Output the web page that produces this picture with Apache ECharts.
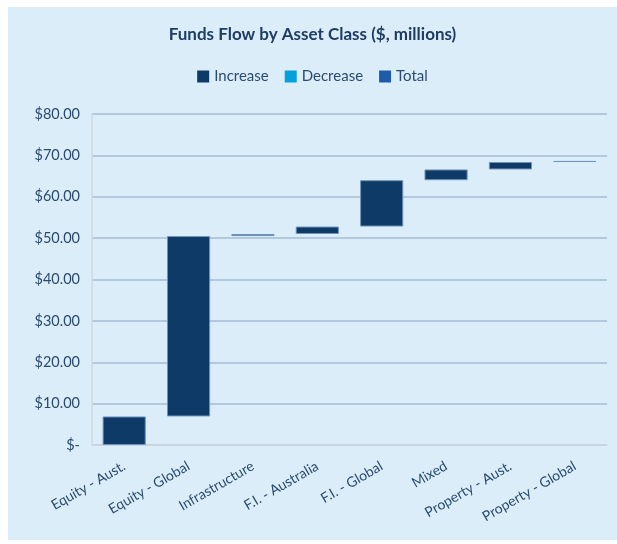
<!DOCTYPE html>
<html>
<head>
<meta charset="utf-8">
<script src="https://cdn.jsdelivr.net/npm/echarts@6/dist/echarts.min.js"></script>
<style>
  html, body { margin: 0; padding: 0; background: #fff; }
  #panel {
    position: absolute; left: 8px; top: 7px;
    width: 609px; height: 533px;
    background: #dbedf9;
  }
  #chart { width: 609px; height: 533px; }
</style>
</head>
<body>
<div id="panel"><div id="chart"></div></div>
<script>
// categories and the change each one adds ($ millions)
const categories = ['Equity - Aust.', 'Equity - Global', 'Infrastructure', 'F.I. - Australia',
  'F.I. - Global', 'Mixed', 'Property - Aust.', 'Property - Global'];
const increase = [6.9, 43.6, 0.5, 1.8, 11.2, 2.6, 1.8, 0.25];
const decrease = ['-', '-', '-', '-', '-', '-', '-', '-'];
const total = ['-', '-', '-', '-', '-', '-', '-', '-'];
const yTicks = [0, 10, 20, 30, 40, 50, 60, 70, 80];

// invisible base for the waterfall, running total before each step
const base = [];
let running = 0;
increase.forEach(v => { base.push(running); running += v; });

const textColor = '#2b4b6e';
const font = 'Lato';

const chart = echarts.init(document.getElementById('chart'));

chart.setOption({
  animation: false,
  textStyle: { fontFamily: font },
  title: {
    text: 'Funds Flow by Asset Class ($, millions)',
    left: 'center',
    top: 14,
    textStyle: { fontSize: 17, fontWeight: 'bold', color: '#1f3c63', fontFamily: font }
  },
  legend: {
    top: 57,
    left: 'center',
    itemWidth: 12,
    itemHeight: 12,
    itemGap: 16,
    icon: 'rect',
    itemStyle: { borderWidth: 0 },
    data: ['Increase', 'Decrease', 'Total'],
    textStyle: { fontSize: 15, color: textColor, fontFamily: font }
  },
  grid: { left: 84, right: 10, top: 107, bottom: 95 },
  xAxis: {
    type: 'category',
    data: categories,
    axisLine: { lineStyle: { color: '#d0d9e0', width: 1.5 } },
    axisTick: { show: false },
    axisLabel: { rotate: 30, fontSize: 14, color: textColor, margin: 20, interval: 0, fontFamily: font }
  },
  yAxis: {
    type: 'value',
    min: 0,
    max: 80,
    interval: 10,
    axisLine: { show: true, lineStyle: { color: '#d0d9e0', width: 1.5 } },
    axisTick: { show: false },
    splitLine: { lineStyle: { color: '#a4bcd3', width: 1.5 } },
    axisLabel: {
      fontSize: 14.5, color: textColor, margin: 12, fontFamily: font,
      formatter: v => yTicks.includes(v) ? (v === 0 ? '$-' : '$' + v.toFixed(2)) : ''
    }
  },
  series: [
    {
      name: 'Base', type: 'bar', stack: 'wf', data: base,
      itemStyle: { color: 'transparent' }, silent: true, barWidth: '67%'
    },
    {
      name: 'Increase', type: 'bar', stack: 'wf', data: increase,
      itemStyle: { color: '#0e3a68', borderColor: '#6f93b8', borderWidth: 1 }
    },
    {
      name: 'Decrease', type: 'bar', stack: 'wf', data: decrease,
      itemStyle: { color: '#04a0dc' }
    },
    {
      name: 'Total', type: 'bar', stack: 'wf', data: total,
      itemStyle: { color: '#1f5bab' }
    }
  ]
});
</script>
</body>
</html>
